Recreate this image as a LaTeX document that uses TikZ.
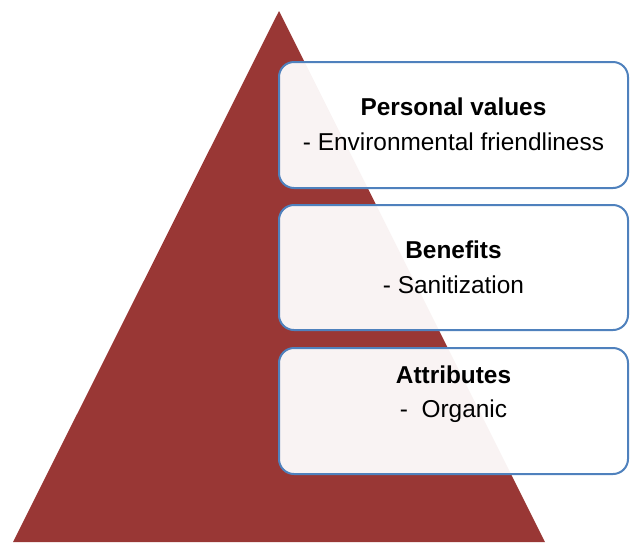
\documentclass[tikz,border=0pt]{standalone}
\usepackage{fontspec}
\setmainfont{Liberation Sans}
\definecolor{pyr}{RGB}{153,55,53}
\definecolor{boxline}{RGB}{79,129,189}
\begin{document}
\begin{tikzpicture}[x=1pt,y=-1pt,
  tier/.style={draw=boxline, line width=2pt, rounded corners=15pt, fill=white, fill opacity=0.94, draw opacity=1},
  ttl/.style={anchor=base, inner sep=0pt, font=\fontsize{24.4}{28}\selectfont\bfseries},
  itm/.style={anchor=base, inner sep=0pt, font=\fontsize{24.4}{28}\selectfont}]
\useasboundingbox (0,0) rectangle (630,542);
\fill[pyr] (279,11) -- (545,542) -- (13,542) -- cycle;
\path[tier] (279,62) rectangle (628,188);
\path[tier] (279,205) rectangle (628,330);
\path[tier] (279,348) rectangle (628,474);
\node[ttl] (t1) at (453.5,115) {Personal values};
\node[itm] (i1) at (453.5,150) {- Environmental friendliness};
\node[ttl] (t2) at (453.5,258) {Benefits};
\node[itm] (i2) at (453.5,293) {- Sanitization};
\node[ttl] (t3) at (453.5,383) {Attributes};
\node[itm] (i3) at (453.5,417) {-\ \ Organic};
\end{tikzpicture}
\end{document}
